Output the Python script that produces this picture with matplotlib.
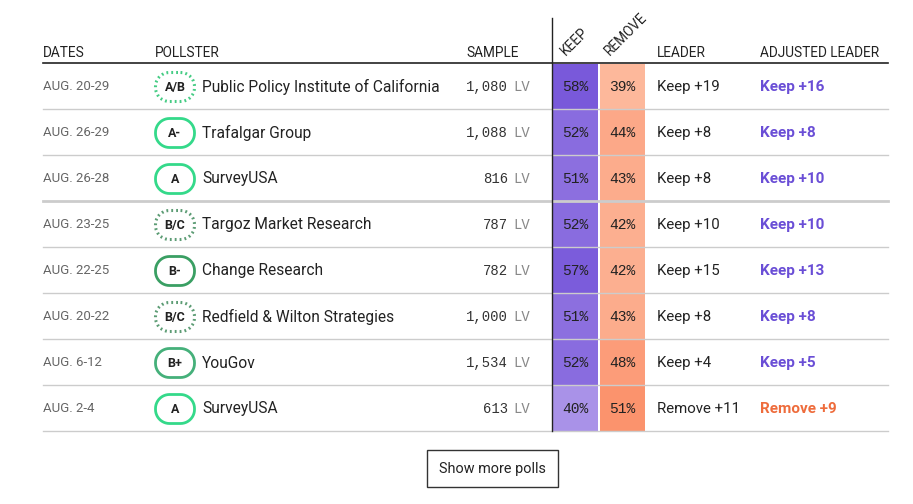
import numpy as np
import matplotlib
matplotlib.use("Agg")
import matplotlib.pyplot as plt
from matplotlib.patches import PathPatch, Rectangle
from matplotlib.path import Path
from matplotlib.colors import LinearSegmentedColormap, Normalize

# data
dates = ["AUG. 20-29", "AUG. 26-29", "AUG. 26-28", "AUG. 23-25", "AUG. 22-25", "AUG. 20-22", "AUG. 6-12", "AUG. 2-4"]
grades = ["A/B", "A-", "A", "B/C", "B-", "B/C", "B+", "A"]
pollsters = ["Public Policy Institute of California", "Trafalgar Group", "SurveyUSA", "Targoz Market Research",
             "Change Research", "Redfield & Wilton Strategies", "YouGov", "SurveyUSA"]
sample = [1080, 1088, 816, 787, 782, 1000, 1534, 613]
pop = ["LV"] * 8
keep = [58, 52, 51, 52, 57, 51, 52, 40]
remove = [39, 44, 43, 42, 42, 43, 48, 51]
leader = ["Keep +19", "Keep +8", "Keep +8", "Keep +10", "Keep +15", "Keep +8", "Keep +4", "Remove +11"]
adjusted = ["Keep +16", "Keep +8", "Keep +10", "Keep +10", "Keep +13", "Keep +8", "Keep +5", "Remove +9"]

SANS = ["Roboto", "DejaVu Sans"]
MONO = ["Liberation Mono", "DejaVu Sans Mono"]

fig = plt.figure(figsize=(9.13, 5.04), dpi=100)
ax = fig.add_axes([0, 0, 1, 1])
ax.set_xlim(0, 913); ax.set_ylim(504, 0); ax.axis("off")

keep_cmap = LinearSegmentedColormap.from_list("k", ["#b7a2ec", "#7656d9"])
rem_cmap = LinearSegmentedColormap.from_list("r", ["#fdc4aa", "#fb8d66"])
knorm = Normalize(35, 59); rnorm = Normalize(35, 53)

badge_col = {"A/B": "#45cc84", "A-": "#34d98a", "A": "#34d98a", "B/C": "#5c9c74", "B-": "#3a9f63", "B+": "#45b07a"}

def stadium(cx, cy, w, h, r):
    # rounded box path, arcs at corners
    pts = []
    for (ox, oy, a0) in [(cx + w/2 - r, cy - h/2 + r, -90), (cx + w/2 - r, cy + h/2 - r, 0),
                         (cx - w/2 + r, cy + h/2 - r, 90), (cx - w/2 + r, cy - h/2 + r, 180)]:
        t = np.radians(np.linspace(a0, a0 + 90, 12))
        pts += list(zip(ox + r*np.cos(t), oy + r*np.sin(t)))
    pts.append(pts[0])
    return Path(pts, closed=True)

# headers
hy = 57
for txt, x in [("DATES", 43), ("POLLSTER", 155), ("SAMPLE", 466), ("LEADER", 657), ("ADJUSTED LEADER", 760)]:
    ax.text(x, hy, txt, fontsize=9.8, family=SANS, color="#222222", va="baseline")
ax.text(566, hy - 1, "KEEP", fontsize=9.8, family=SANS, color="#222222", rotation=45, va="baseline", ha="left",
        rotation_mode="anchor")
ax.text(610, hy - 1, "REMOVE", fontsize=9.8, family=SANS, color="#222222", rotation=45, va="baseline", ha="left",
        rotation_mode="anchor")
ax.plot([43, 888], [63, 63], color="#222222", lw=1.2)

top, rh = 63, 46
for i in range(len(dates)):
    y0 = top + i * rh; yc = y0 + rh / 2 + 1
    # cells
    ax.add_patch(Rectangle((553, y0 + 1), 45, rh - 1, color=keep_cmap(knorm(keep[i])), lw=0))
    ax.add_patch(Rectangle((600, y0 + 1), 45, rh - 1, color=rem_cmap(rnorm(remove[i])), lw=0))
    ax.text(575.5, yc, f"{keep[i]}%", fontsize=10.5, family=MONO, color="#222222", ha="center", va="center")
    ax.text(622.5, yc, f"{remove[i]}%", fontsize=10.5, family=MONO, color="#222222", ha="center", va="center")
    # separators
    lw = 2 if i == 2 else 1
    ax.plot([43, 888], [y0 + rh, y0 + rh], color="#cccccc", lw=lw, zorder=3)
    ax.text(43, yc, dates[i], fontsize=9.5, family=SANS, color="#666666", va="center")
    g = grades[i]
    dotted = "/" in g
    ax.add_patch(PathPatch(stadium(175, yc, 39, 29, 14), fc="white", ec=badge_col[g],
                           lw=2.2 if dotted else 2, ls=(0, (0.6, 1.0)) if dotted else "-"))
    ax.text(175, yc + 0.5, g, fontsize=9, family=SANS, weight="bold", color="#222222", ha="center", va="center")
    ax.text(202, yc, pollsters[i], fontsize=11.2, family=SANS, color="#222222", va="center")
    ax.text(508, yc, f"{sample[i]:,}", fontsize=10, family=MONO, color="#333333", ha="right", va="center")
    ax.text(513, yc, pop[i], fontsize=10, family=MONO, color="#888888", ha="left", va="center")
    ax.text(657, yc, leader[i], fontsize=10.8, family=SANS, color="#222222", va="center")
    col = "#6a4ed6" if adjusted[i].startswith("Keep") else "#ee6c3c"
    ax.text(760, yc, adjusted[i], fontsize=11, family=SANS, weight="bold", color=col, va="center")

ax.plot([552, 552], [18, top + 8 * rh], color="#222222", lw=1, zorder=4)

ax.add_patch(Rectangle((427, 450), 131, 37, fc="white", ec="#333333", lw=1))
ax.text(492.5, 469, "Show more polls", fontsize=10.4, family=SANS, color="#222222", ha="center", va="center")

fig.savefig("out.png", dpi=100)
